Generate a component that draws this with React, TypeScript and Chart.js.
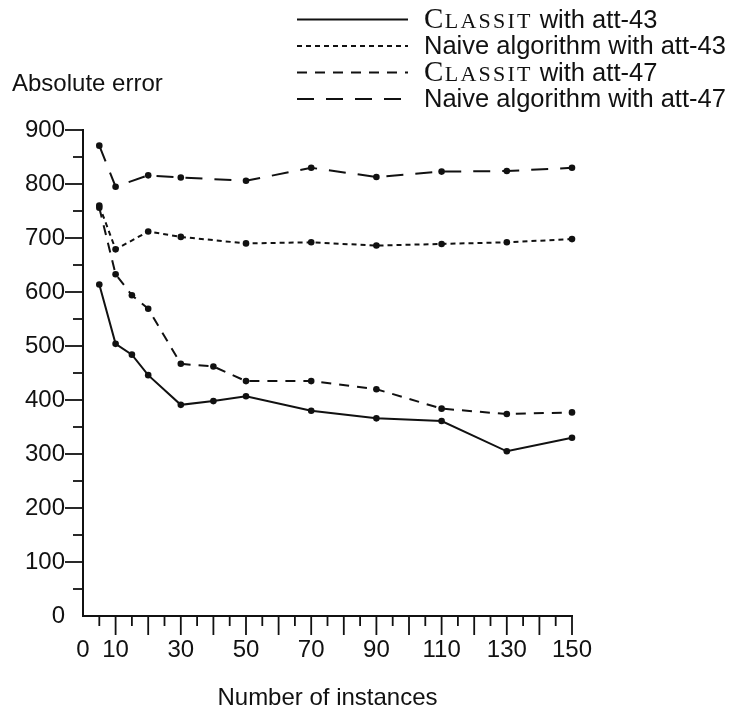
import React, { useEffect, useRef } from 'react';
import { Chart, registerables } from 'chart.js';

Chart.register(...registerables);

// Training-set sizes at which each algorithm was evaluated
const instancesClassit = [5, 10, 15, 20, 30, 40, 50, 70, 90, 110, 130, 150];
const instancesNaive = [5, 10, 20, 30, 50, 70, 90, 110, 130, 150];

// Absolute error per series
const classitAtt43 = [614, 504, 484, 446, 391, 398, 407, 380, 366, 361, 305, 330];
const naiveAtt43 = [760, 679, 712, 702, 690, 692, 686, 689, 692, 698];
const classitAtt47 = [756, 633, 594, 569, 467, 462, 435, 435, 420, 384, 374, 377];
const naiveAtt47 = [871, 795, 816, 812, 806, 830, 813, 823, 824, 830];

const seriesNames = [
  'CLASSIT with att-43',
  'Naive algorithm with att-43',
  'CLASSIT with att-47',
  'Naive algorithm with att-47',
];

// Labelled ticks (every other tick mark carries no text)
const xTickLabels = [0, 10, 30, 50, 70, 90, 110, 130, 150];
const yTickLabels = [0, 100, 200, 300, 400, 500, 600, 700, 800, 900];

const yTitle = 'Absolute error';
const xTitle = 'Number of instances';

const INK = '#111';
const SANS = '"Liberation Sans", Arial, sans-serif';
const SERIF = '"Liberation Serif", "Times New Roman", serif';

const toPoints = (xs: number[], ys: number[]) => xs.map((x, i) => ({ x, y: ys[i] }));

function line(ctx: CanvasRenderingContext2D, x1: number, y1: number, x2: number, y2: number) {
  ctx.beginPath();
  ctx.moveTo(x1, y1);
  ctx.lineTo(x2, y2);
  ctx.stroke();
}

// Draws a legend label; the algorithm name CLASSIT is set in small capitals.
function drawLegendText(ctx: CanvasRenderingContext2D, text: string, x: number, baseline: number) {
  ctx.textAlign = 'left';
  ctx.textBaseline = 'alphabetic';
  let cursor = x;
  let rest = text;
  if (text.startsWith('CLASSIT')) {
    const word = 'CLASSIT';
    ctx.font = `29px ${SERIF}`;
    ctx.fillText(word[0], cursor, baseline);
    cursor += ctx.measureText(word[0]).width + 1.5;
    ctx.font = `22px ${SERIF}`;
    for (const ch of word.slice(1)) {
      ctx.fillText(ch, cursor, baseline);
      cursor += ctx.measureText(ch).width + 2.2;
    }
    rest = text.slice(word.length);
  }
  ctx.font = `25.5px ${SANS}`;
  ctx.fillText(rest, cursor, baseline);
}

const decorations = {
  id: 'decorations',
  afterDraw(chart: any) {
    const { ctx, chartArea } = chart;
    const xs = chart.scales.x;
    const ys = chart.scales.y;
    ctx.save();
    ctx.strokeStyle = INK;
    ctx.fillStyle = INK;
    ctx.lineWidth = 1.8;
    ctx.setLineDash([]);

    // tick marks: long at labelled steps, short in between
    xs.ticks.forEach((t: any) => {
      if (t.value === 0) return;
      const px = xs.getPixelForValue(t.value);
      const len = t.value % 10 === 0 ? 19 : 10;
      line(ctx, px, chartArea.bottom, px, chartArea.bottom + len);
    });
    ys.ticks.forEach((t: any) => {
      if (t.value === 0) return;
      const py = ys.getPixelForValue(t.value);
      const len = t.value % 100 === 0 ? 18 : 10;
      line(ctx, chartArea.left - len, py, chartArea.left, py);
    });

    // axis titles
    ctx.font = `24px ${SANS}`;
    ctx.textBaseline = 'alphabetic';
    ctx.textAlign = 'left';
    ctx.fillText(yTitle, 12, 91);
    ctx.textAlign = 'center';
    ctx.fillText(xTitle, (chartArea.left + chartArea.right) / 2, 705);

    // legend: line sample followed by the series name
    chart.data.datasets.forEach((ds: any, i: number) => {
      const y = 19.5 + i * 26.5;
      ctx.lineWidth = 2;
      ctx.setLineDash(ds.borderDash || []);
      line(ctx, 297, y, 408, y);
      ctx.setLineDash([]);
      drawLegendText(ctx, ds.label, 424, y + 8);
    });
    ctx.restore();
  },
};

export default function App() {
  const canvasRef = useRef<HTMLCanvasElement | null>(null);

  useEffect(() => {
    const canvas = canvasRef.current;
    if (!canvas) return;

    const common = {
      borderColor: INK,
      backgroundColor: INK,
      borderWidth: 2,
      pointRadius: 3.3,
      pointBorderWidth: 0,
      pointBackgroundColor: INK,
      tension: 0,
      fill: false,
      clip: false as const,
    };

    const chart = new Chart(canvas, {
      type: 'line',
      data: {
        datasets: [
          { ...common, label: seriesNames[0], data: toPoints(instancesClassit, classitAtt43), borderDash: [] },
          { ...common, label: seriesNames[1], data: toPoints(instancesNaive, naiveAtt43), borderDash: [5, 4] },
          { ...common, label: seriesNames[2], data: toPoints(instancesClassit, classitAtt47), borderDash: [10, 8] },
          { ...common, label: seriesNames[3], data: toPoints(instancesNaive, naiveAtt47), borderDash: [17, 12] },
        ],
      },
      options: {
        responsive: false,
        animation: false,
        devicePixelRatio: 1,
        layout: { padding: { top: 130, right: 159, left: 0, bottom: 0 } },
        plugins: {
          legend: { display: false },
          tooltip: { enabled: false },
          title: { display: false },
        },
        scales: {
          x: {
            type: 'linear',
            min: 0,
            max: 150,
            afterFit: (scale: any) => { scale.height = 95; },
            grid: { display: true, drawOnChartArea: false, drawTicks: false },
            border: { display: true, color: INK, width: 2 },
            ticks: {
              stepSize: 5,
              autoSkip: false,
              maxRotation: 0,
              padding: 20,
              color: INK,
              font: { family: SANS, size: 24 },
              callback: (v: any) => (xTickLabels.includes(Number(v)) ? String(v) : ''),
            },
          },
          y: {
            type: 'linear',
            min: 0,
            max: 900,
            afterFit: (scale: any) => { scale.width = 83; },
            grid: { display: true, drawOnChartArea: false, drawTicks: false },
            border: { display: true, color: INK, width: 2 },
            ticks: {
              stepSize: 50,
              autoSkip: false,
              padding: 18,
              color: INK,
              font: { family: SANS, size: 24 },
              callback: (v: any) => (yTickLabels.includes(Number(v)) ? String(v) : ''),
            },
          },
        },
      },
      plugins: [decorations],
    });

    return () => chart.destroy();
  }, []);

  return (
    <div style={{ position: 'absolute', left: 0, top: 0, width: 731, height: 711, background: '#fff' }}>
      <canvas ref={canvasRef} width={731} height={711} style={{ display: 'block' }} />
    </div>
  );
}
